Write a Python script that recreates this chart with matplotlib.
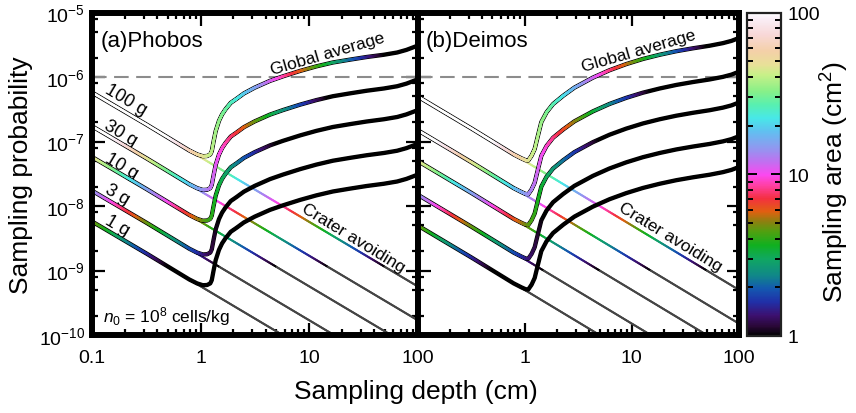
import numpy as np
import matplotlib
matplotlib.use("Agg")
import matplotlib.pyplot as plt
from matplotlib.collections import LineCollection
from matplotlib.colors import LinearSegmentedColormap, LogNorm
from matplotlib.ticker import LogLocator, NullFormatter, FixedLocator, FixedFormatter
from matplotlib.cm import ScalarMappable

plt.rcParams['font.family'] = ['Liberation Sans', 'DejaVu Sans']
plt.rcParams['mathtext.fontset'] = 'custom'
plt.rcParams['mathtext.rm'] = 'Liberation Sans'
plt.rcParams['mathtext.it'] = 'Liberation Sans:italic'
plt.rcParams['mathtext.bf'] = 'Liberation Sans:bold'

# ---------------- data ----------------
masses = [1, 3, 10, 30, 100]                       # sample mass (g)
mass_labels = ['1 g', '3 g', '10 g', '30 g', '100 g']
density = 2.0                                      # g/cm^3 : sampling area = mass / (density * depth)

crater_depth_ends = [0.1, 100.0]
phobos_crater_p01 = [5.7e-9, 1.7e-8, 5.7e-8, 1.7e-7, 5.7e-7]
phobos_crater_p100 = [5.7e-12, 1.7e-11, 5.7e-11, 1.7e-10, 5.7e-10]
deimos_crater_p01 = [5.0e-9, 1.5e-8, 5.0e-8, 1.5e-7, 5.0e-7]
deimos_crater_p100 = [5.0e-12, 1.5e-11, 5.0e-11, 1.5e-10, 5.0e-10]

# Global average curves (depth in cm, log10 probability)
phobos_depth = [0.1, 0.32, 0.79, 0.93, 1.05, 1.15, 1.23, 1.27, 1.32, 1.38, 1.48, 1.58, 1.70, 1.90,
                2.14, 2.51, 3.16, 4.37, 5.75, 8.3, 11.7, 16.6, 24, 34, 49, 65, 79, 100]
phobos_log10p_1g = [-8.24, -8.74, -9.14, -9.20, -9.228, -9.225, -9.20, -9.15, -9.00, -8.84, -8.68, -8.58,
                    -8.50, -8.40, -8.34, -8.255, -8.165, -8.06, -7.99, -7.905, -7.835, -7.775, -7.73,
                    -7.69, -7.655, -7.62, -7.58, -7.515]
phobos_log10p_3g = [-7.763, -8.263, -8.663, -8.723, -8.751, -8.748, -8.723, -8.673, -8.523, -8.363, -8.203,
                    -8.103, -8.023, -7.923, -7.863, -7.778, -7.688, -7.583, -7.513, -7.428, -7.358, -7.298,
                    -7.253, -7.213, -7.178, -7.143, -7.103, -7.038]
phobos_log10p_10g = [-7.24, -7.74, -8.14, -8.20, -8.228, -8.225, -8.20, -8.15, -8.00, -7.84, -7.68, -7.58,
                     -7.50, -7.40, -7.34, -7.255, -7.165, -7.06, -6.99, -6.905, -6.835, -6.775, -6.73,
                     -6.69, -6.655, -6.62, -6.58, -6.515]
phobos_log10p_30g = [-6.763, -7.263, -7.663, -7.723, -7.751, -7.748, -7.723, -7.673, -7.523, -7.363, -7.203,
                     -7.103, -7.023, -6.923, -6.863, -6.778, -6.688, -6.583, -6.513, -6.428, -6.358, -6.298,
                     -6.253, -6.213, -6.178, -6.143, -6.103, -6.038]
phobos_log10p_100g = [-6.24, -6.74, -7.14, -7.20, -7.228, -7.225, -7.20, -7.15, -7.00, -6.84, -6.68, -6.58,
                      -6.50, -6.40, -6.34, -6.255, -6.165, -6.06, -5.99, -5.905, -5.835, -5.775, -5.73,
                      -5.69, -5.655, -5.62, -5.58, -5.515]

deimos_depth = [0.1, 0.32, 0.79, 0.93, 1.02, 1.08, 1.16, 1.24, 1.33, 1.43, 1.60, 1.84, 2.29, 2.91,
                4.33, 6.19, 8.87, 12.7, 18.2, 26.0, 37.2, 53.2, 70.8, 85.1, 100]
deimos_log10p_1g = [-8.30, -8.80, -9.20, -9.26, -9.29, -9.295, -9.22, -9.116, -8.91, -8.70, -8.547, -8.419,
                    -8.29, -8.165, -8.01, -7.895, -7.80, -7.72, -7.655, -7.60, -7.555, -7.515, -7.475,
                    -7.44, -7.395]
deimos_log10p_3g = [-7.823, -8.323, -8.723, -8.783, -8.813, -8.818, -8.743, -8.639, -8.433, -8.223, -8.07,
                    -7.942, -7.813, -7.688, -7.533, -7.418, -7.323, -7.243, -7.178, -7.123, -7.078, -7.038,
                    -6.998, -6.963, -6.918]
deimos_log10p_10g = [-7.30, -7.80, -8.20, -8.26, -8.29, -8.295, -8.22, -8.116, -7.91, -7.70, -7.547, -7.419,
                     -7.29, -7.165, -7.01, -6.895, -6.80, -6.72, -6.655, -6.60, -6.555, -6.515, -6.475,
                     -6.44, -6.395]
deimos_log10p_30g = [-6.823, -7.323, -7.723, -7.783, -7.813, -7.818, -7.743, -7.639, -7.433, -7.223, -7.07,
                     -6.942, -6.813, -6.688, -6.533, -6.418, -6.323, -6.243, -6.178, -6.123, -6.078, -6.038,
                     -5.998, -5.963, -5.918]
deimos_log10p_100g = [-6.30, -6.80, -7.20, -7.26, -7.29, -7.295, -7.22, -7.116, -6.91, -6.70, -6.547, -6.419,
                      -6.29, -6.165, -6.01, -5.895, -5.80, -5.72, -5.655, -5.60, -5.555, -5.515, -5.475,
                      -5.44, -5.395]

threshold_probability = 1e-6
ytick_values = [1e-10, 1e-9, 1e-8, 1e-7, 1e-6, 1e-5]
ytick_labels = [r'$10^{-10}$', r'$10^{-9}$', r'$10^{-8}$', r'$10^{-7}$', r'$10^{-6}$', r'$10^{-5}$']
xtick_values = [0.1, 1, 10, 100]
xtick_labels = ['0.1', '1', '10', '100']
cbar_ticks = [1, 10, 100]
cbar_ticklabels = ['1', '10', '100']

# ---------------- colormap (bottom -> top) ----------------
cb_colors = ['#000000', '#2a0838', '#3c1070', '#2030a8', '#1458b0', '#108888', '#10a860',
             '#10b020', '#50a010', '#8c8010', '#e06010', '#f43040', '#ff40a8', '#fb48f0',
             '#c070f0', '#9098f0', '#60c0f0', '#48e8e8', '#58f0b0', '#88f088', '#c8f088',
             '#e8e098', '#f4d0a8', '#f8d8d8', '#faf0f8', '#ffffff']
cb_pos = [0.0, 0.03, 0.063, 0.105, 0.146, 0.187, 0.239, 0.28, 0.322, 0.353, 0.384, 0.425, 0.467,
          0.498, 0.539, 0.581, 0.633, 0.674, 0.715, 0.757, 0.808, 0.839, 0.881, 0.933, 0.984, 1.0]
cmap = LinearSegmentedColormap.from_list('area', list(zip(cb_pos, cb_colors)), N=512)
norm = LogNorm(vmin=1, vmax=100)


def fine_path(d, p, n=30):
    ld = np.log10(np.asarray(d, float))
    lp = np.log10(np.asarray(p, float))
    xs, ys = [ld[0]], [lp[0]]
    t = np.linspace(0, 1, n + 1)[1:]
    for i in range(len(ld) - 1):
        xs.extend(ld[i] + t * (ld[i + 1] - ld[i]))
        ys.extend(lp[i] + t * (lp[i + 1] - lp[i]))
    return 10 ** np.array(xs), 10 ** np.array(ys)


def colored_line(ax, d, p, mass, lw, under, n, zorder):
    x, y = fine_path(d, p, n)
    pts = np.column_stack([x, y])
    segs = np.stack([pts[:-1], pts[1:]], axis=1)
    dmid = np.sqrt(x[:-1] * x[1:])
    area = mass / (density * dmid)
    f = norm(area)
    cols = cmap(np.clip(f, 0, 1))
    cols[np.asarray(f) < 0] = matplotlib.colors.to_rgba(under)
    lc = LineCollection(segs, colors=cols, linewidths=lw, capstyle='round',
                        joinstyle='round', zorder=zorder)
    ax.add_collection(lc)


fig = plt.figure(figsize=(8.56, 4.14), dpi=100)
ax1 = fig.add_axes([92 / 856, 78 / 414, 325.5 / 856, 322.5 / 414])
ax2 = fig.add_axes([417.5 / 856, 78 / 414, 321.5 / 856, 322.5 / 414])
cax = fig.add_axes([746.5 / 856, 77 / 414, 34.5 / 856, 323.5 / 414])

panels = [
    (ax1, phobos_crater_p01, phobos_crater_p100, phobos_depth,
     [phobos_log10p_1g, phobos_log10p_3g, phobos_log10p_10g, phobos_log10p_30g, phobos_log10p_100g]),
    (ax2, deimos_crater_p01, deimos_crater_p100, deimos_depth,
     [deimos_log10p_1g, deimos_log10p_3g, deimos_log10p_10g, deimos_log10p_30g, deimos_log10p_100g]),
]

for ax, c01, c100, gdepth, glogs in panels:
    ax.set_xscale('log')
    ax.set_yscale('log')
    ax.set_xlim(0.1, 100)
    ax.set_ylim(1e-10, 1e-5)
    ax.axhline(threshold_probability, color='#8c8c8c', lw=1.5, ls=(0, (7, 3.6)), zorder=2)
    for m, pa, pb, lg in zip(masses, c01, c100, glogs):
        colored_line(ax, crater_depth_ends, [pa, pb], m, 1.45, '#454545', 400, 3)
        gp = 10 ** np.array(lg)
        ax.plot(gdepth, gp, color='k', lw=3.1, solid_capstyle='round',
                solid_joinstyle='round', zorder=4)
        colored_line(ax, gdepth, gp, m, 1.9, '#000000', 30, 5)
    for s in ax.spines.values():
        s.set_linewidth(4.3)
        s.set_zorder(10)
    ax.xaxis.set_major_locator(FixedLocator(xtick_values))
    ax.xaxis.set_minor_locator(LogLocator(10, subs=np.arange(2, 10) * 1.0, numticks=20))
    ax.xaxis.set_minor_formatter(NullFormatter())
    ax.yaxis.set_major_locator(FixedLocator(ytick_values))
    ax.yaxis.set_minor_locator(LogLocator(10, subs=(2.0, 5.0, 8.0), numticks=20))
    ax.yaxis.set_minor_formatter(NullFormatter())
    ax.tick_params(which='both', direction='in', top=True, right=True, width=1.6, labelsize=14)
    ax.tick_params(which='major', length=9)
    ax.tick_params(which='minor', length=4.5)
    ax.tick_params(axis='x', which='major', pad=10)
    ax.tick_params(axis='y', which='major', pad=5)

ax1.xaxis.set_major_formatter(FixedFormatter(xtick_labels))
ax2.xaxis.set_major_formatter(FixedFormatter([''] + xtick_labels[1:]))
ax1.yaxis.set_major_formatter(FixedFormatter(ytick_labels))
ax2.yaxis.set_major_formatter(FixedFormatter([''] * len(ytick_labels)))

# annotations
ax1.text(0.028, 0.912, '(a)Phobos', transform=ax1.transAxes, fontsize=16, ha='left', va='center', zorder=11)
ax2.text(0.024, 0.912, '(b)Deimos', transform=ax2.transAxes, fontsize=16, ha='left', va='center', zorder=11)
ax1.text(14.7, 2.3e-6, 'Global average', fontsize=12.5, rotation=16.2, rotation_mode='anchor',
         ha='center', va='center')
ax2.text(11.6, 2.56e-6, 'Global average', fontsize=12.5, rotation=16.1, rotation_mode='anchor',
         ha='center', va='center')
ax1.text(25.6, 3.27e-9, 'Crater avoiding', fontsize=12.5, rotation=-31.5, rotation_mode='anchor',
         ha='center', va='center')
ax2.text(22.6, 3.36e-9, 'Crater avoiding', fontsize=12.5, rotation=-31.5, rotation_mode='anchor',
         ha='center', va='center')
mass_label_pos = [(0.170, 5.1e-9), (0.170, 1.53e-8), (0.187, 4.2e-8), (0.182, 1.35e-7), (0.206, 4.44e-7)]
for lab, (xd, yp) in zip(mass_labels, mass_label_pos):
    ax1.text(xd, yp, lab, fontsize=13, rotation=-30.7, rotation_mode='anchor',
             ha='center', va='center')
ax1.text(0.127, 1.97e-10, r'$n_0$ = 10$^8$ cells/kg', fontsize=12.5, ha='left', va='center')

# colour bar
sm = ScalarMappable(norm=norm, cmap=cmap)
cb = fig.colorbar(sm, cax=cax)
cb.outline.set_linewidth(1.6)
cb.outline.set_edgecolor('#222222')
cb.set_ticks(cbar_ticks)
cb.set_ticklabels(cbar_ticklabels)
cax.yaxis.set_minor_locator(LogLocator(10, subs=np.arange(2, 10) * 1.0, numticks=20))
cax.yaxis.set_minor_formatter(NullFormatter())
cax.tick_params(which='both', direction='in', left=True, right=True, width=1.4, labelsize=14, pad=5)
cax.tick_params(which='major', length=7)
cax.tick_params(which='minor', length=4)

fig.text(0.4854, 0.053, 'Sampling depth (cm)', fontsize=19, ha='center', va='center')
fig.text(0.024, 0.577, 'Sampling probability', fontsize=19, ha='center', va='center', rotation=90)
fig.text(0.9755, 0.56, 'Sampling area (cm$^2$)', fontsize=19, ha='center', va='center', rotation=90)

fig.savefig('out.png', dpi=100)
